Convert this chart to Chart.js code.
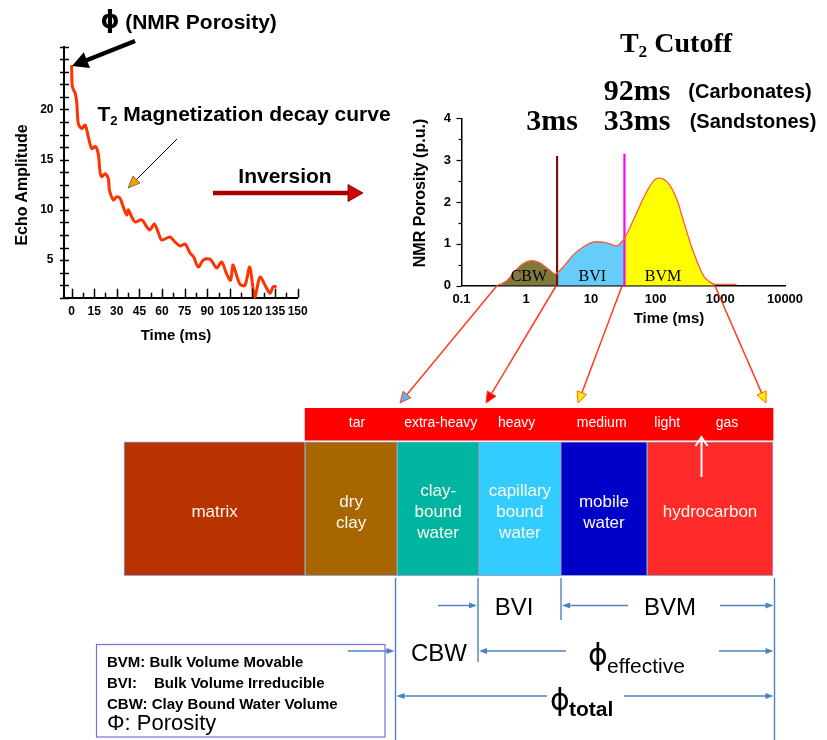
<!DOCTYPE html>
<html>
<head>
<meta charset="utf-8">
<script src="https://cdn.jsdelivr.net/npm/chart.js@4.4.0/dist/chart.umd.min.js"></script>
<style>
  body { margin: 0; background: #fff; }
  #page { position: relative; width: 827px; height: 740px; overflow: hidden; font-family: "Liberation Sans", Arial, sans-serif; color: #000; }
  canvas, svg { position: absolute; }
  .c { position: absolute; transform: translate(-50%, -50%); white-space: nowrap; line-height: 1; }
  .l { position: absolute; transform: translateY(-50%); white-space: nowrap; line-height: 1; }
  .b { font-weight: bold; }
  .serif { font-family: "Liberation Serif", "Times New Roman", serif; }
  .phi { font-family: "DejaVu Sans", sans-serif; }
  .sub { font-size: 0.62em; position: relative; top: 0.3em; }
  .rot { transform: translate(-50%, -50%) rotate(-90deg); }
</style>
</head>
<body>
<div id="page">
  <canvas id="decay" width="320" height="320" style="left:0;top:0"></canvas>
  <canvas id="t2" width="410" height="220" style="left:400px;top:100px"></canvas>
  <canvas id="vol" width="700" height="200" style="left:100px;top:380px"></canvas>
  <svg id="ann" width="827" height="740" style="left:0;top:0"></svg>

  <!-- decay curve annotations -->
  <div class="c b phi" style="left:110px;top:20px;font-size:24px">ϕ</div>
  <div class="c b" style="left:201px;top:21px;font-size:21px">(NMR Porosity)</div>
  <div class="c b" style="left:244px;top:113px;font-size:21px">T<span class="sub">2</span> Magnetization decay curve</div>
  <div class="c b" style="left:285px;top:175px;font-size:21px">Inversion</div>
  <div class="c b rot" style="left:22px;top:185px;font-size:16px">Echo Amplitude</div>
  <div class="c b" style="left:176px;top:334px;font-size:15px">Time (ms)</div>

  <!-- T2 distribution annotations -->
  <div class="c b serif" style="left:676px;top:43px;font-size:28px">T<span class="sub">2</span> Cutoff</div>
  <div class="c b serif" style="left:637px;top:90px;font-size:30px">92ms</div>
  <div class="c b" style="left:750px;top:91px;font-size:20px">(Carbonates)</div>
  <div class="c b serif" style="left:552px;top:120px;font-size:30px">3ms</div>
  <div class="c b serif" style="left:637px;top:120px;font-size:30px">33ms</div>
  <div class="c b" style="left:753px;top:121px;font-size:20px">(Sandstones)</div>
  <div class="c b rot" style="left:420px;top:193px;font-size:16px">NMR Porosity (p.u.)</div>
  <div class="c b" style="left:669px;top:317px;font-size:15px">Time (ms)</div>

  <!-- volume brackets -->
  <div class="c" style="left:514px;top:607px;font-size:24px">BVI</div>
  <div class="c" style="left:670px;top:607px;font-size:24px">BVM</div>
  <div class="c" style="left:439px;top:653px;font-size:24px">CBW</div>
  <div class="c phi" style="left:598px;top:655px;font-size:30px">ϕ</div>
  <div class="l" style="left:607px;top:665px;font-size:21px">effective</div>
  <div class="c phi" style="left:560px;top:700px;font-size:30px">ϕ</div>
  <div class="l b" style="left:569px;top:708px;font-size:21px">total</div>

  <!-- legend -->
  <div class="l b" style="left:107px;top:661px;font-size:15px">BVM: Bulk Volume Movable</div>
  <div class="l b" style="left:107px;top:682px;font-size:15px">BVI:<span style="margin-left:17px">Bulk Volume Irreducible</span></div>
  <div class="l b" style="left:107px;top:703px;font-size:15px">CBW: Clay Bound Water Volume</div>
  <div class="l" style="left:107px;top:723px;font-size:22px">Φ: Porosity</div>
</div>

<script>
// echo train (left)
const decayTime = [0, 0.5, 1.5, 2.5, 3.5, 4.5, 6.8, 9, 11.1, 13.4, 16, 17.8, 18.9, 20, 22.2, 24.4, 25.1, 27.7, 30, 32.2,
  34.3, 36.6, 37.7, 39.9, 42.1, 46.6, 49.9, 52, 54.9, 57.6, 59.8, 65.3, 68.6, 72, 75.3, 78.6, 81, 84.1, 87.4, 91.8,
  96.3, 99.6, 102.9, 105.5, 107, 108.4, 111.7, 115, 118.2, 121.5, 125, 129, 131.6, 133.8, 136];
const decayAmp = [24.4, 22.3, 21.9, 21.6, 20.6, 18.6, 18.1, 18.45, 17.3, 16.1, 16.3, 15.5, 13.8, 13.3, 13.6, 13.1, 12.0, 11.0, 11.3, 11.15,
  10.3, 9.5, 10.0, 9.3, 8.8, 9.0, 8.3, 8.0, 8.6, 7.7, 7.0, 7.3, 6.8, 6.4, 6.6, 5.7, 5.3, 4.3, 5.0, 5.1,
  4.2, 4.8, 3.6, 3.0, 4.5, 4.0, 2.6, 2.5, 4.3, 1.3, 3.3, 2.3, 1.7, 2.35, 2.35];
const decayLabels = [5, 10, 15, 20];

// T2 distribution (right)
const nmrTime = [0.35, 0.5, 0.7, 0.9, 1.2, 1.6, 2.2, 2.8, 3, 4, 5.3, 7.5, 12, 18, 25, 30, 33, 45, 73, 100, 115, 166, 220, 268, 383, 548, 700, 850, 1780];
const nmrPor = [0, 0.12, 0.38, 0.53, 0.6, 0.55, 0.4, 0.28, 0.3, 0.5, 0.73, 0.92, 1.05, 1.02, 0.95, 1.05, 1.13, 1.56, 2.25, 2.55, 2.57, 2.4, 2.0, 1.56, 0.81, 0.24, 0.08, 0.03, 0.03];
const cutoffs = [3, 33];
const cutoffTop = [3.1, 3.15];
const zoneNames = ['CBW', 'BVI', 'BVM'];
const zoneLabelAt = [1.1, 10.5, 130];
const zoneEnd = [3, 33, 850];

// bulk volume model (bottom)
const volNames = [['matrix'], ['dry', 'clay'], ['clay-', 'bound', 'water'], ['capillary', 'bound', 'water'], ['mobile', 'water'], ['hydrocarbon']];
const volValues = [27.9, 14.2, 12.6, 12.6, 13.3, 19.4];
const volColors = ['#b83300', '#a86600', '#00b4a2', '#33ccff', '#0000c8', '#ff2a2a'];
const fluidTypes = ['tar', 'extra-heavy', 'heavy', 'medium', 'light', 'gas'];
const fluidPos = [35.9, 48.8, 60.5, 73.6, 83.7, 92.9];

Chart.defaults.color = '#000';
Chart.defaults.font.family = '"Liberation Sans", Arial, sans-serif';

// tick marks drawn by hand so they can go inward / across the axis
const tickMarks = {
  id: 'tickMarks',
  afterDraw(chart, args, opts) {
    const ctx = chart.ctx;
    ctx.save();
    ctx.strokeStyle = '#000';
    ctx.lineWidth = opts.width || 1.5;
    (opts.axes || []).forEach(a => {
      const s = chart.scales[a.id];
      s.ticks.forEach(t => {
        const major = a.isMajor(t.value);
        const p = Math.round(s.getPixelForValue(t.value)) + 0.5;
        ctx.beginPath();
        if (s.isHorizontal()) {
          ctx.moveTo(p, s.top);
          ctx.lineTo(p, s.top - (major ? a.major : a.minor));
        } else {
          const out = major ? a.major : a.minor;
          ctx.moveTo(s.right - out, p);
          ctx.lineTo(s.right + (a.inner || 0), p);
        }
        ctx.stroke();
      });
    });
    ctx.restore();
  }
};

const boldTick = size => ({ size: size, weight: 'bold' });
const noGrid = { display: false, drawTicks: false };

new Chart(document.getElementById('decay'), {
  type: 'line',
  data: {
    datasets: [{
      data: decayTime.map((t, i) => ({ x: t, y: decayAmp[i] })),
      borderColor: '#ff3300',
      borderWidth: 3,
      pointRadius: 0,
      tension: 0.3,
      clip: false
    }]
  },
  options: {
    responsive: false,
    animation: false,
    events: [],
    layout: { padding: { left: 0, top: 46.7, right: 22.3, bottom: 0 } },
    plugins: {
      legend: { display: false },
      tooltip: { enabled: false },
      tickMarks: {
        width: 1.5,
        axes: [
          { id: 'x', major: 9, minor: 5, isMajor: v => Math.abs(v % 15) < 1e-6 },
          { id: 'y', major: 4, minor: 4, inner: 5, isMajor: () => true }
        ]
      }
    },
    scales: {
      x: {
        type: 'linear', min: -5, max: 150,
        afterFit: s => { s.height = 22.3; },
        grid: noGrid,
        border: { color: '#000', width: 2 },
        ticks: {
          stepSize: 7.5, includeBounds: false, autoSkip: false, maxRotation: 0, padding: 7,
          font: boldTick(12),
          callback: v => (Math.abs(v % 15) < 1e-6 ? String(v) : '')
        }
      },
      y: {
        min: 1.25, max: 26.25,
        afterFit: s => { s.width = 64; },
        grid: noGrid,
        border: { color: '#000', width: 2 },
        ticks: {
          stepSize: 1.25, includeBounds: false, autoSkip: false, padding: 10.5,
          font: boldTick(12),
          callback: v => (decayLabels.some(d => Math.abs(d - v) < 1e-6) ? String(v) : '')
        }
      }
    }
  },
  plugins: [tickMarks]
});

// T2 distribution zones
const zoneFill = ['#7f7a3c', '#66ccf8', '#ffff00'];
const zoneSets = zoneNames.map((name, k) => {
  const lo = k === 0 ? 0 : zoneEnd[k - 1];
  const hi = zoneEnd[k];
  const pts = [];
  nmrTime.forEach((t, i) => { if (t >= lo && t <= hi) pts.push({ x: t, y: nmrPor[i] }); });
  pts.push({ x: hi, y: 0 });
  pts.unshift({ x: pts[0].x, y: 0 });
  return {
    label: name,
    data: pts,
    borderWidth: 0,
    backgroundColor: zoneFill[k],
    fill: 'origin',
    pointRadius: 0,
    cubicInterpolationMode: 'monotone',
    clip: false
  };
});

const zoneText = {
  id: 'zoneText',
  afterDatasetsDraw(chart) {
    const ctx = chart.ctx;
    ctx.save();
    ctx.font = '16px "Liberation Serif", "Times New Roman", serif';
    ctx.fillStyle = '#000';
    ctx.textAlign = 'center';
    ctx.textBaseline = 'middle';
    zoneNames.forEach((n, i) => {
      ctx.fillText(n, chart.scales.x.getPixelForValue(zoneLabelAt[i]), chart.scales.y.getPixelForValue(0.22));
    });
    ctx.restore();
  }
};

new Chart(document.getElementById('t2'), {
  type: 'line',
  data: {
    datasets: [
      {
        label: 'T2 distribution',
        data: nmrTime.map((t, i) => ({ x: t, y: nmrPor[i] })),
        borderColor: '#ff5a3c', borderWidth: 1.3, pointRadius: 0, fill: false,
        cubicInterpolationMode: 'monotone', clip: false
      },
      {
        label: 'cutoff 3ms',
        data: [{ x: cutoffs[0], y: 0 }, { x: cutoffs[0], y: cutoffTop[0] }],
        borderColor: '#7a0f0f', borderWidth: 2.2, pointRadius: 0, fill: false
      },
      {
        label: 'cutoff 33ms',
        data: [{ x: cutoffs[1], y: 0 }, { x: cutoffs[1], y: cutoffTop[1] }],
        borderColor: '#ff00ff', borderWidth: 2.2, pointRadius: 0, fill: false
      },
      ...zoneSets
    ]
  },
  options: {
    responsive: false,
    animation: false,
    events: [],
    layout: { padding: { left: 0, top: 9.3, right: 25, bottom: 0 } },
    plugins: {
      legend: { display: false },
      tooltip: { enabled: false },
      tickMarks: { width: 1.2, axes: [{ id: 'y', major: 5, minor: 3, isMajor: v => Math.abs(v % 1) < 1e-6 }] }
    },
    scales: {
      x: {
        type: 'logarithmic', min: 0.1, max: 10000,
        afterFit: s => { s.height = 34.3; },
        grid: noGrid,
        border: { color: '#000', width: 1.5 },
        ticks: {
          autoSkip: false, maxRotation: 0, padding: 6,
          font: boldTick(13),
          callback: v => {
            const e = Math.log10(v);
            if (Math.abs(e - Math.round(e)) > 1e-6) return '';
            return v < 1 ? '0.1' : String(Math.round(v));
          }
        }
      },
      y: {
        min: 0, max: 4,
        afterFit: s => { s.width = 61.5; },
        grid: noGrid,
        border: { color: '#000', width: 1.5 },
        ticks: {
          stepSize: 0.5, autoSkip: false, padding: 10.5,
          font: boldTick(13),
          callback: v => (Math.abs(v % 1) < 1e-6 ? String(v) : '')
        }
      }
    }
  },
  plugins: [tickMarks, zoneText]
});

// bulk volume bars
const volRanges = [];
let acc = 0;
volValues.forEach(v => { volRanges.push([acc, acc + v]); acc += v; });

const volText = {
  id: 'volText',
  afterDatasetsDraw(chart) {
    const ctx = chart.ctx;
    ctx.save();
    ctx.fillStyle = '#fcfaf0';
    ctx.textAlign = 'center';
    ctx.textBaseline = 'middle';
    ctx.font = '17px "Liberation Sans", Arial, sans-serif';
    volNames.forEach((lines, i) => {
      const bar = chart.getDatasetMeta(i + 1).data[1];
      const cx = (bar.x + bar.base) / 2;
      lines.forEach((ln, k) => ctx.fillText(ln, cx, bar.y + 4 + (k - (lines.length - 1) / 2) * 21));
    });
    const band = chart.getDatasetMeta(0).data[0];
    ctx.font = '14px "Liberation Sans", Arial, sans-serif';
    ctx.fillStyle = '#fff';
    fluidTypes.forEach((f, i) => ctx.fillText(f, chart.scales.x.getPixelForValue(fluidPos[i]), band.y - 1));
    ctx.restore();
  }
};

new Chart(document.getElementById('vol'), {
  type: 'bar',
  data: {
    labels: ['fluid type', 'volume'],
    datasets: [
      {
        label: 'fluid type',
        data: [[volValues[0], acc], null],
        backgroundColor: '#ff0000', borderWidth: 0, barThickness: 32, grouped: false, clip: false
      },
      ...volNames.map((n, i) => ({
        label: n.join(' '),
        data: [null, volRanges[i]],
        backgroundColor: volColors[i],
        borderColor: '#8fa8cf', borderWidth: 1, borderSkipped: false,
        barThickness: 134, grouped: false, clip: false
      }))
    ]
  },
  options: {
    indexAxis: 'y',
    responsive: false,
    animation: false,
    events: [],
    layout: { padding: { left: 24, top: 2, right: 27, bottom: 29 } },
    plugins: { legend: { display: false }, tooltip: { enabled: false } },
    scales: {
      x: { type: 'linear', min: 0, max: 100, display: false },
      y: { display: false }
    }
  },
  plugins: [volText]
});

// arrows and brackets
const svg = document.getElementById('ann');
const NS = 'http://www.w3.org/2000/svg';
function el(tag, attrs) {
  const e = document.createElementNS(NS, tag);
  Object.keys(attrs).forEach(k => e.setAttribute(k, attrs[k]));
  svg.appendChild(e);
  return e;
}
function arrow(x1, y1, x2, y2, o) {
  const L = Math.hypot(x2 - x1, y2 - y1), ux = (x2 - x1) / L, uy = (y2 - y1) / L;
  const hl = o.hl || 7, hw = (o.hw || 6) / 2;
  const bx = x2 - ux * hl, by = y2 - uy * hl;
  if (o.open) {
    el('line', { x1, y1, x2, y2, stroke: o.color, 'stroke-width': o.w });
    el('polyline', { points: `${bx - uy * hw},${by + ux * hw} ${x2},${y2} ${bx + uy * hw},${by - ux * hw}`,
      fill: 'none', stroke: o.color, 'stroke-width': o.w });
    return;
  }
  el('line', { x1, y1, x2: bx + ux, y2: by + uy, stroke: o.color, 'stroke-width': o.w });
  el('polygon', { points: `${x2},${y2} ${bx - uy * hw},${by + ux * hw} ${bx + uy * hw},${by - ux * hw}`,
    fill: o.head || o.color, stroke: o.hs || 'none', 'stroke-width': o.hsw || 1 });
}
function line(x1, y1, x2, y2, color, w) {
  el('line', { x1, y1, x2, y2, stroke: color, 'stroke-width': w });
}

arrow(135, 41, 72, 66, { color: '#000', w: 4.5, hl: 16, hw: 17 });
arrow(177, 139, 128, 188, { color: '#000', w: 1, hl: 12, hw: 10, head: '#f5a000', hs: '#333', hsw: 0.6 });
arrow(213, 193, 363, 193, { color: '#a80000', w: 4.5, hl: 15, hw: 17, head: '#d80000', hs: '#5a0000', hsw: 0.8 });

const red = '#ff3c1e';
arrow(496.7, 286, 400, 403, { color: red, w: 1.5, hl: 11, hw: 10, head: '#5ab8ee', hs: red });
arrow(556, 286, 486, 403, { color: red, w: 1.5, hl: 11, hw: 10, head: '#ff0000', hs: red });
arrow(622, 286, 578, 403, { color: red, w: 1.5, hl: 11, hw: 10, head: '#ffee00', hs: '#ff6a00' });
arrow(715, 286, 766, 403, { color: red, w: 1.5, hl: 11, hw: 10, head: '#ffee00', hs: '#ff6a00' });

arrow(701.5, 477, 701.5, 437, { color: '#fff', w: 2, hl: 9, hw: 12, open: true });

const blue = '#4f81bd';
line(395.5, 578, 395.5, 740, blue, 1.4);
line(478, 578, 478, 662, blue, 1.4);
line(561, 578, 561, 620, blue, 1.4);
line(774.5, 578, 774.5, 740, blue, 1.4);
const dim = { color: blue, w: 1.4, hl: 8, hw: 6 };
arrow(438, 605.5, 477, 605.5, dim);
arrow(628, 605.5, 562, 605.5, dim);
arrow(720, 605.5, 773.5, 605.5, dim);
arrow(348, 651, 394.5, 651, dim);
arrow(566, 651, 479, 651, dim);
arrow(719, 651, 773.5, 651, dim);
arrow(547, 696, 396.5, 696, dim);
arrow(624, 696, 773.5, 696, dim);

el('rect', { x: 96.5, y: 644.5, width: 288.5, height: 92.5, fill: 'none', stroke: '#7272d8', 'stroke-width': 1.2 });
</script>
</body>
</html>
